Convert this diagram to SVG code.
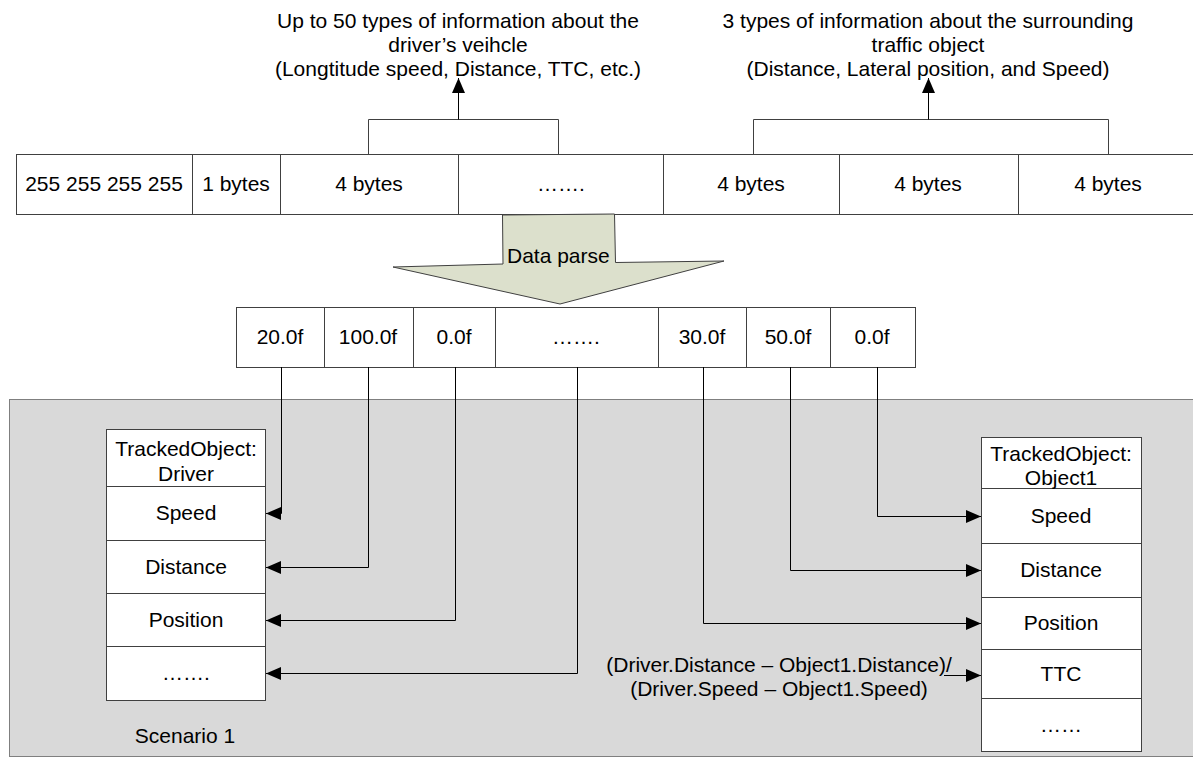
<svg xmlns="http://www.w3.org/2000/svg" width="1193" height="762" viewBox="0 0 1193 762">
  <defs>
    <style>
      text { font-family: "Liberation Sans", Arial, sans-serif; font-size: 21px; fill: #000; }
      .c { text-anchor: middle; }
      .cell { fill: #fff; stroke: #404040; stroke-width: 1; }
      .link { fill: none; stroke: #000; stroke-width: 1; }
      .brace { fill: none; stroke: #404040; stroke-width: 1; }
    </style>
    <marker id="ah" viewBox="0 0 15 13" refX="15" refY="6.5" markerWidth="15" markerHeight="13" orient="auto" markerUnits="userSpaceOnUse">
      <path d="M0,0 L15,6.5 L0,13 z" fill="#000"/>
    </marker>
  </defs>

  <rect width="1193" height="762" fill="#fff"/>

  <!-- scenario panel -->
  <g id="scenario">
    <rect x="9.5" y="399.5" width="1200" height="357" fill="#d9d9d9" stroke="#7f7f7f"/>
    <text class="c" x="185" y="743">Scenario 1</text>
  </g>

  <!-- raw packet bytes -->
  <g id="packet">
    <rect class="cell" x="16.5" y="154.5" width="176" height="60"/>
    <rect class="cell" x="192.5" y="154.5" width="88" height="60"/>
    <rect class="cell" x="280.5" y="154.5" width="178" height="60"/>
    <rect class="cell" x="458.5" y="154.5" width="205" height="60"/>
    <rect class="cell" x="663.5" y="154.5" width="176" height="60"/>
    <rect class="cell" x="839.5" y="154.5" width="179" height="60"/>
    <rect class="cell" x="1018.5" y="154.5" width="180" height="60"/>
    <text class="c" x="104" y="191">255 255 255 255</text>
    <text class="c" x="236" y="191">1 bytes</text>
    <text class="c" x="369" y="191">4 bytes</text>
    <text class="c" x="561" y="191">…….</text>
    <text class="c" x="751" y="191">4 bytes</text>
    <text class="c" x="928" y="191">4 bytes</text>
    <text class="c" x="1108" y="191">4 bytes</text>
  </g>

  <!-- captions above the packet -->
  <g id="driver-info">
    <text class="c" x="458" y="28">Up to 50 types of information about the</text>
    <text class="c" x="458" y="52">driver’s veihcle</text>
    <text class="c" x="458" y="76">(Longtitude speed, Distance, TTC, etc.)</text>
  </g>
  <g id="object-info">
    <text class="c" x="928" y="28">3 types of information about the surrounding</text>
    <text class="c" x="928" y="52">traffic object</text>
    <text class="c" x="928" y="76">(Distance, Lateral position, and Speed)</text>
  </g>

  <!-- parse step block arrow -->
  <g id="data-parse">
    <polygon points="502.5,215 614.5,214 615.5,262.5 724,261 560,304 393,267 503,264" fill="#dce0cc" stroke="#404040" stroke-width="1"/>
    <text x="507" y="263">Data parse</text>
  </g>

  <!-- parsed float values -->
  <g id="values">
    <rect class="cell" x="236.5" y="307.5" width="88" height="60"/>
    <rect class="cell" x="324.5" y="307.5" width="89" height="60"/>
    <rect class="cell" x="413.5" y="307.5" width="82" height="60"/>
    <rect class="cell" x="495.5" y="307.5" width="163" height="60"/>
    <rect class="cell" x="658.5" y="307.5" width="88" height="60"/>
    <rect class="cell" x="746.5" y="307.5" width="84" height="60"/>
    <rect class="cell" x="830.5" y="307.5" width="85" height="60"/>
    <text class="c" x="280" y="344">20.0f</text>
    <text class="c" x="368" y="344">100.0f</text>
    <text class="c" x="454" y="344">0.0f</text>
    <text class="c" x="576" y="344">…….</text>
    <text class="c" x="702" y="344">30.0f</text>
    <text class="c" x="788" y="344">50.0f</text>
    <text class="c" x="872" y="344">0.0f</text>
  </g>

  <!-- TrackedObject: Driver -->
  <g id="driver">
    <rect class="cell" x="106.5" y="429.5" width="159" height="57"/>
    <rect class="cell" x="106.5" y="486.5" width="159" height="54"/>
    <rect class="cell" x="106.5" y="540.5" width="159" height="53"/>
    <rect class="cell" x="106.5" y="593.5" width="159" height="53"/>
    <rect class="cell" x="106.5" y="646.5" width="159" height="54"/>
    <text class="c" x="186" y="456">TrackedObject:</text>
    <text class="c" x="186" y="481">Driver</text>
    <text class="c" x="186" y="520">Speed</text>
    <text class="c" x="186" y="574">Distance</text>
    <text class="c" x="186" y="627">Position</text>
    <text class="c" x="186" y="680">…….</text>
  </g>

  <!-- TrackedObject: Object1 -->
  <g id="object1">
    <rect class="cell" x="981.5" y="437.5" width="160" height="51"/>
    <rect class="cell" x="981.5" y="488.5" width="160" height="55"/>
    <rect class="cell" x="981.5" y="543.5" width="160" height="54"/>
    <rect class="cell" x="981.5" y="597.5" width="160" height="52"/>
    <rect class="cell" x="981.5" y="649.5" width="160" height="49"/>
    <rect class="cell" x="981.5" y="698.5" width="160" height="53"/>
    <text class="c" x="1061" y="461">TrackedObject:</text>
    <text class="c" x="1061" y="485">Object1</text>
    <text class="c" x="1061" y="523">Speed</text>
    <text class="c" x="1061" y="577">Distance</text>
    <text class="c" x="1061" y="630">Position</text>
    <text class="c" x="1061" y="681">TTC</text>
    <text class="c" x="1061" y="732">……</text>
  </g>

  <!-- TTC formula -->
  <g id="ttc-formula">
    <text class="c" x="779" y="672">(Driver.Distance – Object1.Distance)/</text>
    <text class="c" x="779" y="696">(Driver.Speed – Object1.Speed)</text>
  </g>

  <!-- connectors -->
  <g id="connectors">
    <path class="brace" d="M368.5,154 V119.5 H558.5 V154"/>
    <path class="link" d="M458.5,119.5 V78" marker-end="url(#ah)"/>
    <path class="brace" d="M753.5,154 V119.5 H1108.5 V154"/>
    <path class="link" d="M928.5,119.5 V78" marker-end="url(#ah)"/>

    <path class="link" d="M281.5,367 V513.5 H266" marker-end="url(#ah)"/>
    <path class="link" d="M368.5,367 V567.5 H266" marker-end="url(#ah)"/>
    <path class="link" d="M455.5,367 V620.5 H266" marker-end="url(#ah)"/>
    <path class="link" d="M577.5,367 V673.5 H266" marker-end="url(#ah)"/>

    <path class="link" d="M877.5,367 V516.5 H981" marker-end="url(#ah)"/>
    <path class="link" d="M790.5,367 V570.5 H981" marker-end="url(#ah)"/>
    <path class="link" d="M703.5,367 V623.5 H981" marker-end="url(#ah)"/>
    <path class="link" d="M944,675.5 H981" marker-end="url(#ah)"/>
  </g>
</svg>
